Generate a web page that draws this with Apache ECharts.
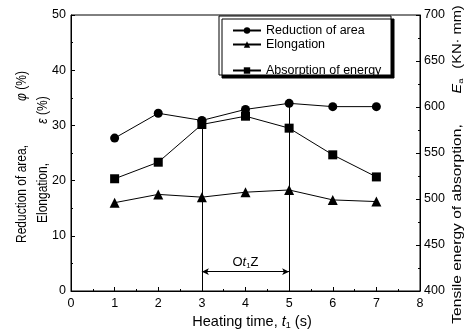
<!DOCTYPE html>
<html><head><meta charset="utf-8">
<script src="https://cdn.jsdelivr.net/npm/echarts@6/dist/echarts.min.js"></script>
<style>html,body{margin:0;padding:0;background:#fff}#c{width:468px;height:331px}</style>
</head><body><div id="c"></div>
<script>
const heatingTime = [1, 2, 3, 4, 5, 6, 7];
const reductionOfArea = [27.7, 32.2, 30.9, 32.9, 34.0, 33.4, 33.4];
const elongation = [16.0, 17.5, 17.0, 17.9, 18.3, 16.5, 16.2];
const absorptionEnergy = [522, 540, 581, 590, 577, 548, 524];
const xTicks = [0, 8, 1];
const leftTicks = [0, 50, 10];
const rightTicks = [400, 700, 50];
const windowStart = 3, windowEnd = 5, arrowLevel = 3.5;
const seriesNames = ['Reduction of area', 'Elongation', 'Absorption of energy'];

const FONT = 'Liberation Sans, Arial, sans-serif';
const chart = echarts.init(document.getElementById('c'), null, {renderer: 'canvas'});
const pair = (xs, ys) => xs.map((x, i) => [x, ys[i]]);
const axisCommon = {
  axisLine: {show: true, lineStyle: {color: '#000', width: 1}},
  axisTick: {show: true, inside: true, length: 4, lineStyle: {color: '#000'}},
  minorTick: {show: true, splitNumber: 2, length: 2, lineStyle: {color: '#000'}},
  splitLine: {show: false},
  axisLabel: {color: '#000', fontFamily: FONT, fontSize: 12.5}
};
const legendAt = (name, top) => ({
  orient: 'horizontal', left: 232, top: top, itemWidth: 28, itemHeight: 8, itemGap: 0, padding: 0,
  textStyle: {color: '#000', fontFamily: FONT, fontSize: 12.5},
  data: [name]
});
const txt = (x, y, rot, text, rich, sx, sy) => ({
  type: 'text', x: x, y: y, rotation: rot, scaleX: sx || 1, scaleY: sy || 1,
  style: {text: text, rich: rich, fill: '#000', align: 'center', verticalAlign: 'middle', fontFamily: FONT, fontSize: 12}
});
const R = (fs) => ({
  n: {fontFamily: FONT, fontSize: fs, color: '#000'},
  g: {fontFamily: FONT, fontSize: fs, fontStyle: 'italic', color: '#000'},
  s: {fontFamily: FONT, fontSize: Math.round(fs * 0.65), color: '#000', padding: [fs * 0.5, 0, 0, 0]}
});
chart.setOption({
  animation: false,
  backgroundColor: '#fff',
  grid: {left: 71, right: 48, top: 15, bottom: 40, show: true, borderColor: '#000', borderWidth: 1},
  legend: [legendAt(seriesNames[0], 24), legendAt(seriesNames[1], 38), legendAt(seriesNames[2], 64)],
  xAxis: Object.assign({}, axisCommon, {
    type: 'value', min: xTicks[0], max: xTicks[1], interval: xTicks[2],
    axisLabel: Object.assign({}, axisCommon.axisLabel, {margin: 6})
  }),
  yAxis: [
    Object.assign({}, axisCommon, {type: 'value', min: leftTicks[0], max: leftTicks[1], interval: leftTicks[2],
      axisLabel: Object.assign({}, axisCommon.axisLabel, {margin: 5})}),
    Object.assign({}, axisCommon, {type: 'value', position: 'right', min: rightTicks[0], max: rightTicks[1], interval: rightTicks[2],
      axisLabel: Object.assign({}, axisCommon.axisLabel, {margin: 4})})
  ],
  series: [
    {name: seriesNames[0], type: 'line', yAxisIndex: 0, data: pair(heatingTime, reductionOfArea),
     symbol: 'circle', symbolSize: 9, itemStyle: {color: '#000'}, lineStyle: {color: '#000', width: 1},
     markLine: {silent: true, symbol: 'none', lineStyle: {color: '#000', width: 1, type: 'solid'}, label: {show: false},
       data: [[{coord: [windowEnd, reductionOfArea[heatingTime.indexOf(windowEnd)]]}, {coord: [windowEnd, 0]}]]}},
    {name: seriesNames[1], type: 'line', yAxisIndex: 0, data: pair(heatingTime, elongation),
     symbol: 'triangle', symbolSize: 10, itemStyle: {color: '#000'}, lineStyle: {color: '#000', width: 1},
     markLine: {silent: true, symbol: ['arrow', 'arrow'], symbolSize: [5, 7], lineStyle: {color: '#000', width: 1, type: 'solid'},
       label: {show: true, position: 'middle', distance: 2, formatter: '{n|O}{g|t}{s|1}{n|Z}', rich: R(13)},
       data: [[{coord: [windowStart, arrowLevel]}, {coord: [windowEnd, arrowLevel]}]]}},
    {name: seriesNames[2], type: 'line', yAxisIndex: 1, data: pair(heatingTime, absorptionEnergy),
     symbol: 'rect', symbolSize: 9, itemStyle: {color: '#000'}, lineStyle: {color: '#000', width: 1},
     markLine: {silent: true, symbol: 'none', lineStyle: {color: '#000', width: 1, type: 'solid'}, label: {show: false},
       data: [[{coord: [windowStart, absorptionEnergy[heatingTime.indexOf(windowStart)]]}, {coord: [windowStart, rightTicks[0]]}]]}}
  ],
  graphic: [
    {type: 'rect', shape: {x: 219, y: 16, width: 172, height: 59}, z: 0,
     style: {fill: '#fff', stroke: '#000', lineWidth: 1, shadowColor: '#000', shadowBlur: 0, shadowOffsetX: 3, shadowOffsetY: 3}},
    txt(22, 194, Math.PI / 2, '{n|Reduction of area,}', R(12), 1, 1.15),
    txt(22, 86, Math.PI / 2, '{g|φ}{n| (%)}', R(12), 1, 1.15),
    txt(43, 193, Math.PI / 2, '{n|Elongation,}', R(12), 1, 1.15),
    txt(43, 110, Math.PI / 2, '{g|ε}{n| (%)}', R(12), 1, 1.15),
    txt(458, 224, Math.PI / 2, '{n|Tensile energy of absorption,}', R(12), 1.3),
    txt(458, 86, Math.PI / 2, '{g|E}{s|a}', R(12), 1.2),
    txt(458, 37, Math.PI / 2, '{n|(KN· mm)}', R(12), 1.22),
    txt(252, 322, 0, '{n|Heating time, }{g|t}{s|1}{n| (s)}', R(14.5))
  ]
});
</script></body></html>
